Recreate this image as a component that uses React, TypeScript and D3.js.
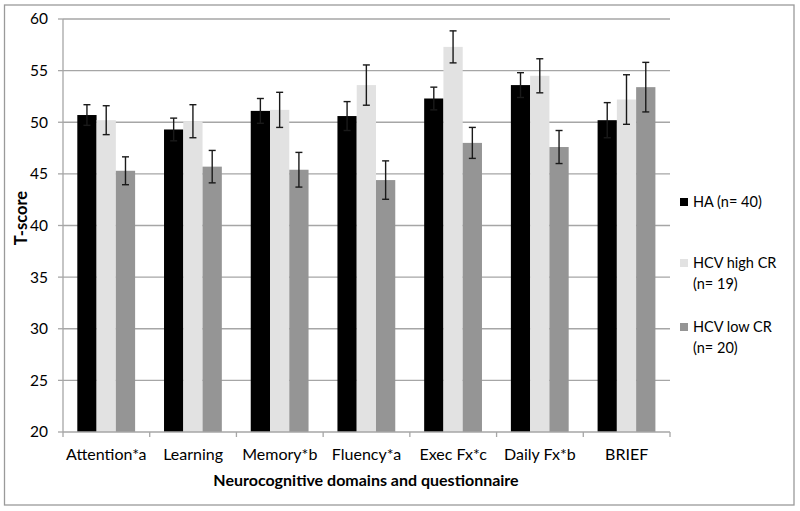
import React from "react";
import * as d3 from "d3";

const categories = ["Attention*a", "Learning", "Memory*b", "Fluency*a", "Exec Fx*c", "Daily Fx*b", "BRIEF"];
const seriesNames = ["HA (n= 40)", "HCV high CR (n= 19)", "HCV low CR (n= 20)"];
const haValues = [50.7, 49.3, 51.1, 50.6, 52.3, 53.6, 50.2];
const haErrors = [1.0, 1.1, 1.2, 1.4, 1.1, 1.2, 1.7];
const highValues = [50.2, 50.1, 51.2, 53.6, 57.3, 54.5, 52.2];
const highErrors = [1.4, 1.6, 1.7, 1.95, 1.55, 1.65, 2.4];
const lowValues = [45.3, 45.7, 45.4, 44.4, 48.0, 47.6, 53.4];
const lowErrors = [1.35, 1.57, 1.68, 1.86, 1.5, 1.6, 2.4];
const yTicks = [20, 25, 30, 35, 40, 45, 50, 55, 60];

const colors = ["#000000", "#e2e2e2", "#959595"];
const FONT = "Lato, 'Open Sans', sans-serif";

export default function App() {
  const W = 800, H = 511;
  const left = 63, right = 670, top = 19, bottom = 432;
  const x = d3.scaleBand<string>().domain(categories).range([left, right]).paddingInner(0).paddingOuter(0);
  const y = d3.scaleLinear().domain([20, 60]).range([bottom, top]);
  const bw = x.bandwidth();
  const barW = bw / (3 + 1.5);
  const inner = d3.scaleBand<number>().domain([0, 1, 2]).range([bw * 0.165, bw * 0.165 + barW * 3]);
  const series = [
    { v: haValues, e: haErrors },
    { v: highValues, e: highErrors },
    { v: lowValues, e: lowErrors },
  ];
  const legendItems = [
    { lines: ["HA (n= 40)"], y: 202 },
    { lines: ["HCV high CR", "(n= 19)"], y: 263 },
    { lines: ["HCV low CR", "(n= 20)"], y: 327 },
  ];
  return (
    <svg width={W} height={H} style={{ position: "absolute", left: 0, top: 0, fontFamily: FONT }}>
      <rect x={0} y={0} width={W} height={H} fill="#fff" />
      <rect x={4.5} y={5} width={789.5} height={500} fill="#fff" stroke="#9a9a9a" strokeWidth={1.3} />
      {yTicks.map((t) => (
        <g key={t}>
          {t > 20 && <line x1={left} x2={right} y1={y(t)} y2={y(t)} stroke="#a6a6a6" strokeWidth={1.3} />}
          <line x1={left - 5} x2={left} y1={y(t)} y2={y(t)} stroke="#a6a6a6" strokeWidth={1.3} />
          <text x={48} y={y(t)} dy="0.35em" textAnchor="end" fontSize={15.5} fill="#000">{t}</text>
        </g>
      ))}
      {categories.map((c, i) => (
        <g key={c}>
          {series.map((s, j) => {
            const bx = (x(c) as number) + (inner(j) as number);
            return (
              <rect key={j} x={bx} y={y(s.v[i])} width={barW} height={y(20) - y(s.v[i])} fill={colors[j]} />
            );
          })}
        </g>
      ))}
      {categories.map((c, i) => (
        <g key={c + "e"}>
          {series.map((s, j) => {
            const cx = (x(c) as number) + (inner(j) as number) + barW / 2;
            const y1 = y(s.v[i] + s.e[i]);
            const y2 = y(s.v[i] - s.e[i]);
            return (
              <g key={j} stroke="#1a1a1a" strokeWidth={1.4}>
                <line x1={cx} x2={cx} y1={y1} y2={y2} />
                <line x1={cx - 3.5} x2={cx + 3.5} y1={y1} y2={y1} />
                <line x1={cx - 3.5} x2={cx + 3.5} y1={y2} y2={y2} />
              </g>
            );
          })}
        </g>
      ))}
      <line x1={left} x2={left} y1={top} y2={bottom} stroke="#a6a6a6" strokeWidth={1.3} />
      <line x1={left} x2={right} y1={bottom} y2={bottom} stroke="#a6a6a6" strokeWidth={1.3} />
      {d3.range(categories.length + 1).map((k) => (
        <line key={k} x1={left + k * bw} x2={left + k * bw} y1={bottom} y2={bottom + 5} stroke="#a6a6a6" strokeWidth={1.3} />
      ))}
      {categories.map((c) => (
        <text key={c} x={(x(c) as number) + bw / 2} y={454} dy="0.35em" textAnchor="middle" fontSize={16} fill="#000">{c}</text>
      ))}
      <text x={366} y={480} dy="0.35em" textAnchor="middle" fontSize={16} fontWeight="bold" fill="#000">Neurocognitive domains and questionnaire</text>
      <text transform={`translate(21,218) rotate(-90)`} dy="0.35em" textAnchor="middle" fontSize={16.5} fontWeight="bold" fill="#000">T-score</text>
      {legendItems.map((it, k) => (
        <g key={k}>
          <rect x={680} y={it.y - 4} width={8} height={8} fill={colors[k]} />
          {it.lines.map((ln, m) => (
            <text key={m} x={693} y={it.y + m * 20.5} dy="0.35em" fontSize={14.5} fill="#000">{ln}</text>
          ))}
        </g>
      ))}
    </svg>
  );
}
